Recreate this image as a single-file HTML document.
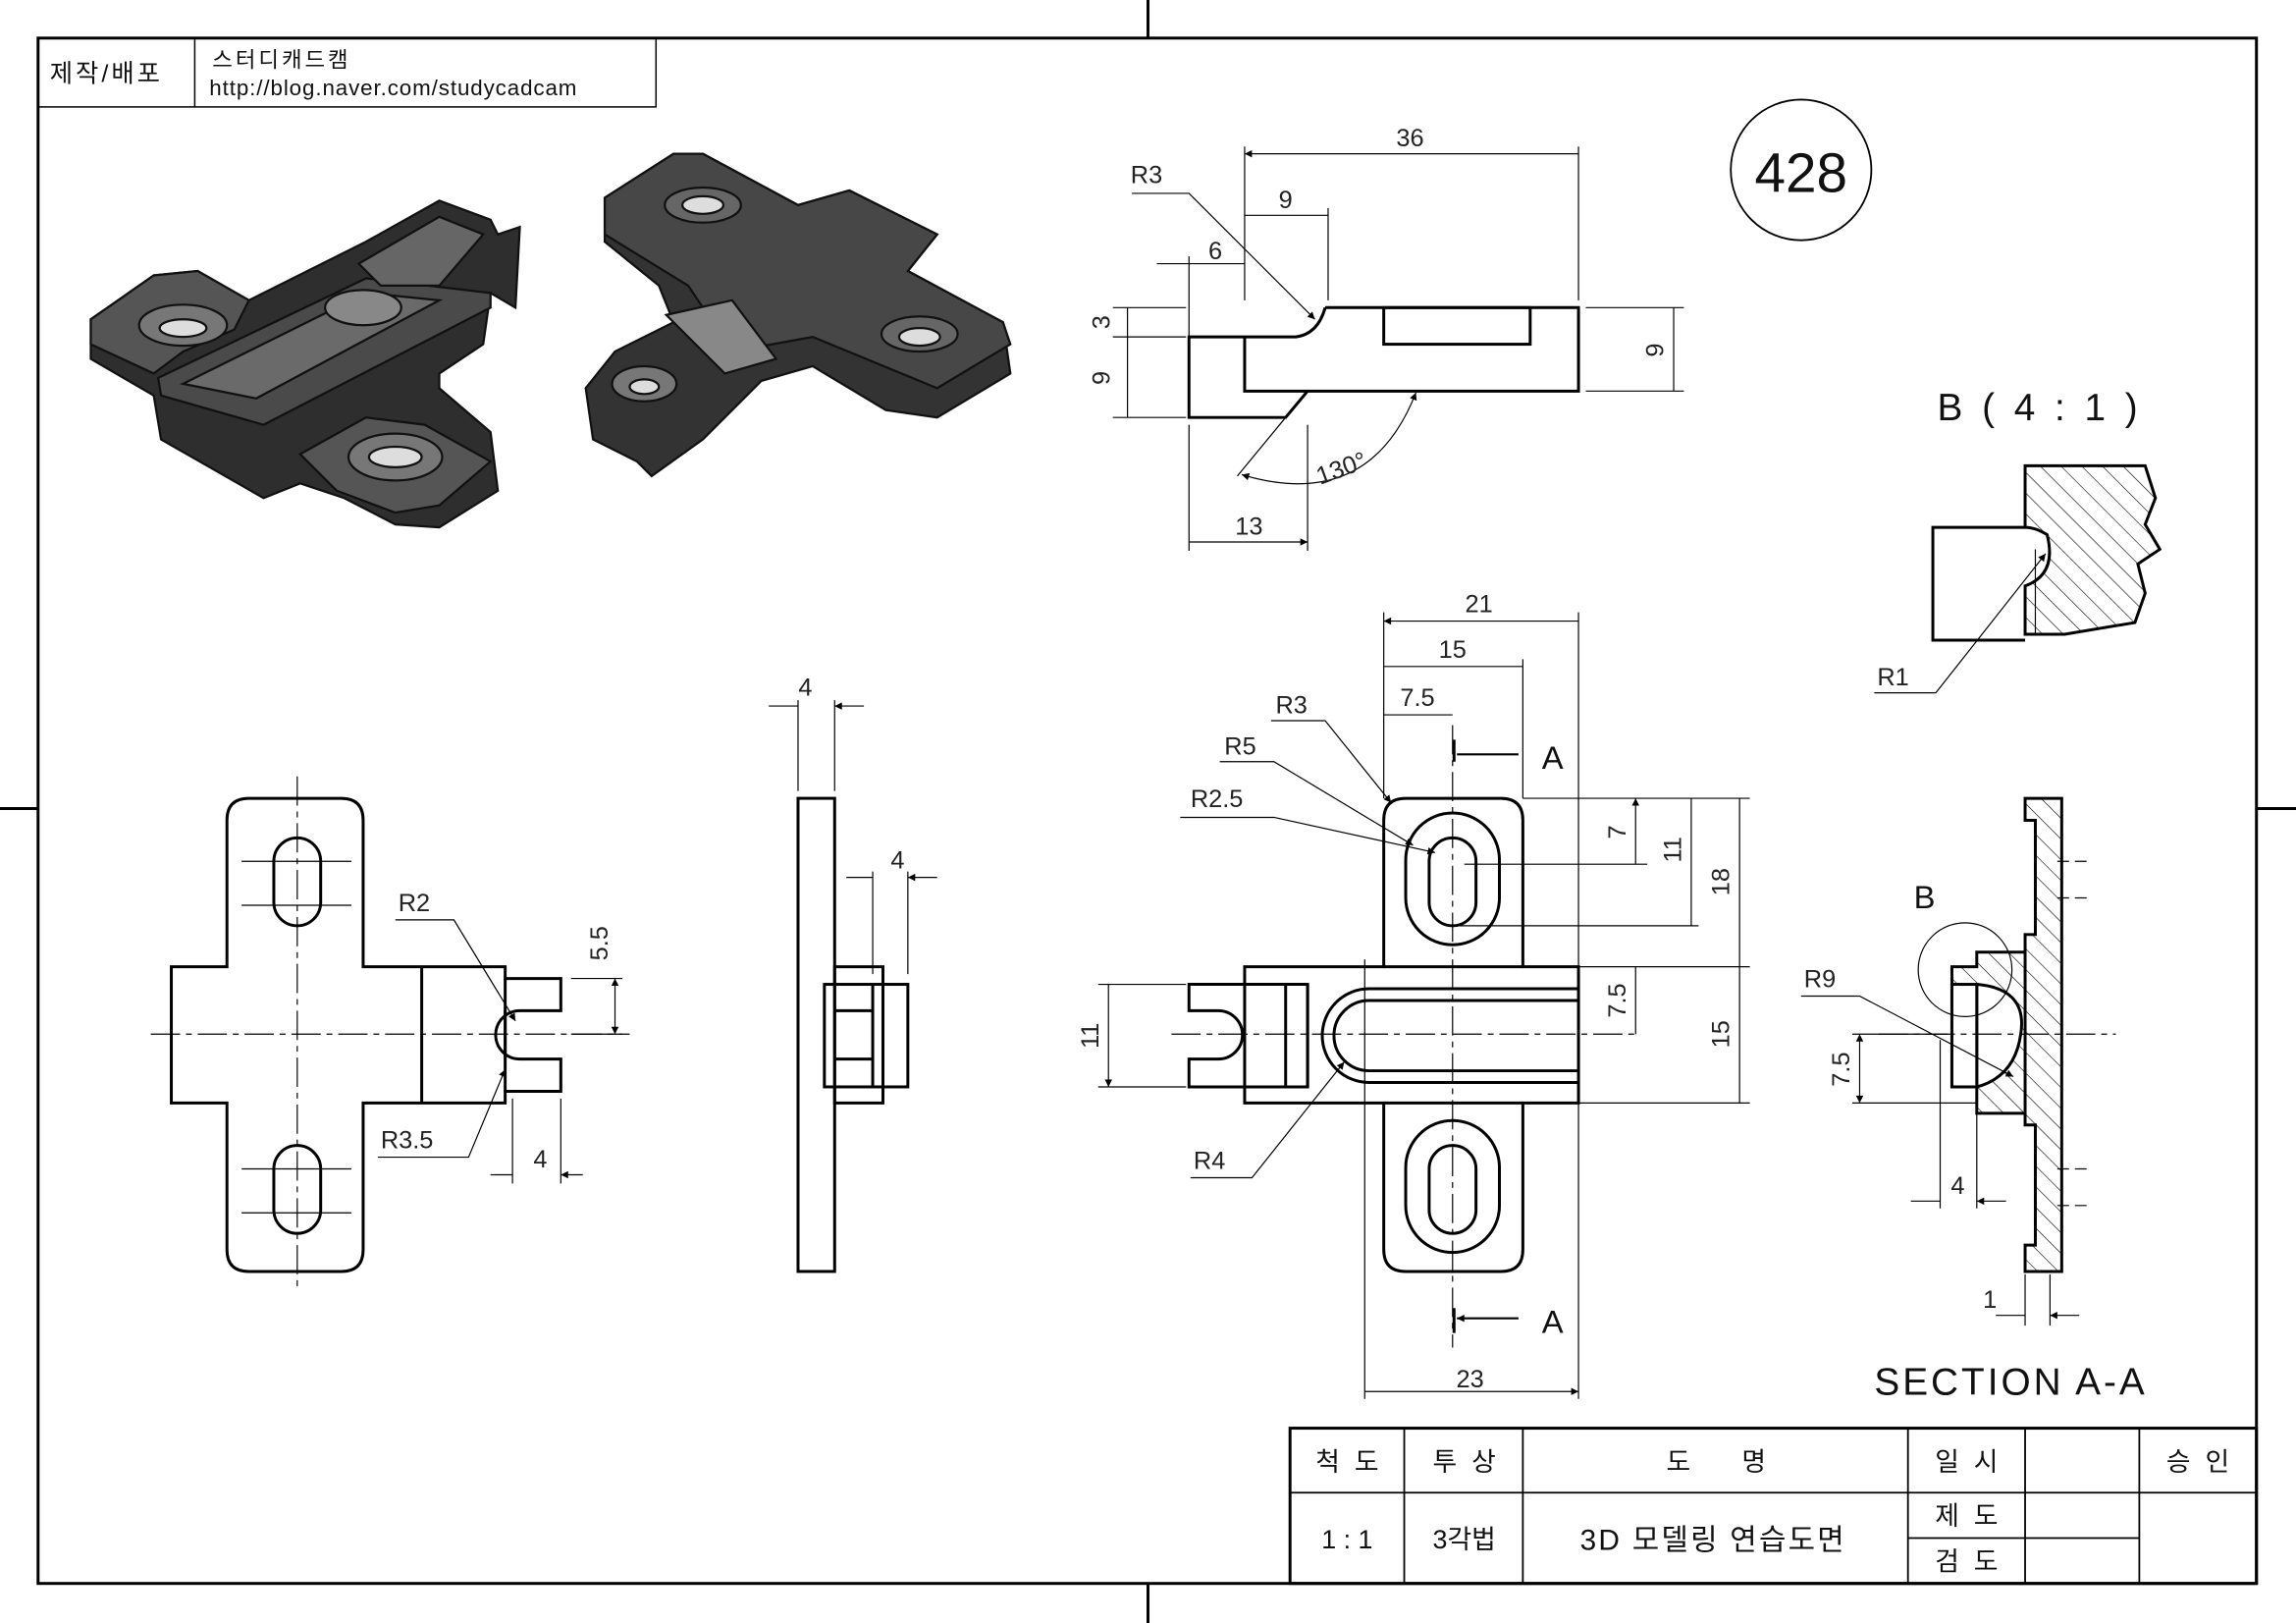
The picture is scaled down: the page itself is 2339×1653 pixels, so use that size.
<!DOCTYPE html>
<html><head><meta charset="utf-8"><style>
html,body{margin:0;padding:0;background:#fff}
svg{display:block}
text{font-family:"Liberation Sans","Noto Sans CJK KR",sans-serif;fill:#111}
.d{fill:#222}
</style></head><body>
<svg width="2339" height="1653" viewBox="0 0 1568 1108" preserveAspectRatio="none" xmlns="http://www.w3.org/2000/svg">
<defs>
<marker id="a" viewBox="0 0 10 10" refX="10" refY="5" markerWidth="9" markerHeight="5" orient="auto-start-reverse" markerUnits="userSpaceOnUse"><path d="M0,0L10,5L0,10z" fill="#000"/></marker>
<pattern id="h" width="10" height="10" patternUnits="userSpaceOnUse" patternTransform="rotate(-45)"><rect width="10" height="10" fill="#fff"/><line x1="0" y1="0" x2="0" y2="10" stroke="#000" stroke-width="0.8"/></pattern>
</defs>
<g fill="none" stroke="#000">
<rect x="26" y="26" width="1515" height="1055" stroke-width="2"/>
<path d="M784 0V26M784 1081V1108M0 552H26M1541 552H1568" stroke-width="2"/>
<rect x="26" y="26" width="422" height="47" stroke-width="1"/>
<path d="M133 26V73"/>
<circle cx="1230" cy="116" r="48" stroke-width="1.2"/>
<rect x="881" y="975" width="660" height="106" stroke-width="2"/>
<path d="M959 975V1081M1040 975V1081M1303 975V1081M1383 975V1081M1461 975V1081M881 1019H1541M1303 1050H1461" stroke-width="1.2"/>
</g>
<text x="34" y="56" font-size="17" letter-spacing="2">제작/배포</text>
<text x="145" y="46" font-size="15" letter-spacing="2">스터디캐드캠</text>
<text x="143" y="65" font-size="15" letter-spacing="0.6">http://blog.naver.com/studycadcam</text>
<text x="1230" y="131" font-size="38" text-anchor="middle">428</text>
<g font-size="18" text-anchor="middle">
<text x="920" y="1004">척 &#160;도</text><text x="1000" y="1004">투 &#160;상</text><text x="1172" y="1004">도 &#160;&#160;&#160;&#160;&#160;&#160;명</text>
<text x="1343" y="1004">일 &#160;시</text><text x="1501" y="1004">승 &#160;인</text>
<text x="920" y="1057">1 : 1</text><text x="1000" y="1057">3각법</text><text x="1170" y="1058" font-size="20" letter-spacing="1.5">3D 모델링 연습도면</text>
<text x="1343" y="1041">제 &#160;도</text><text x="1343" y="1072">검 &#160;도</text>
</g>
<g stroke="#111" stroke-width="1.5">
<path d="M62 218L105 188L135 185L170 205L250 165L300 137L335 150L340 160L355 155L352 210L335 200L330 235L300 255L300 265L335 295L340 335L300 360L270 358L235 340L205 330L180 340L110 300L105 270L62 245Z" fill="#2e2e2e"/>
<path d="M62 218L105 188L135 185L170 205L160 225L125 240L105 255L62 235Z" fill="#555"/>
<ellipse cx="125" cy="222" rx="30" ry="14" fill="#777"/><ellipse cx="125" cy="224" rx="16" ry="6" fill="#ddd"/>
<path d="M108 258L250 190L335 200L335 210L180 290L110 270Z" fill="#4a4a4a"/>
<path d="M125 262L250 200L300 205L175 272Z" fill="#6a6a6a"/>
<ellipse cx="248" cy="210" rx="26" ry="12" fill="#888"/>
<path d="M245 180L300 148L330 160L300 195L260 195Z" fill="#666"/>
<path d="M205 310L250 285L290 290L335 315L300 345L270 350L230 335Z" fill="#555"/>
<ellipse cx="270" cy="312" rx="32" ry="16" fill="#777"/><ellipse cx="270" cy="312" rx="18" ry="7" fill="#ddd"/>
</g>
<g stroke="#111" stroke-width="1.5">
<path d="M413 135L460 105L480 105L545 140L580 130L640 160L620 185L685 220L690 255L640 285L605 280L555 250L520 260L480 300L445 325L435 315L405 300L400 265L420 240L460 220L450 195L413 165Z" fill="#333"/>
<path d="M413 135L460 105L480 105L545 140L580 130L640 160L620 185L685 220L690 235L640 265L555 230L500 240L470 195L413 160Z" fill="#474747"/>
<ellipse cx="480" cy="140" rx="26" ry="12" fill="#666"/><ellipse cx="480" cy="140" rx="14" ry="6" fill="#ddd"/>
<ellipse cx="628" cy="228" rx="26" ry="12" fill="#666"/><ellipse cx="628" cy="230" rx="14" ry="6" fill="#ddd"/>
<path d="M455 215L500 205L530 245L495 255Z" fill="#888"/>
<ellipse cx="440" cy="262" rx="22" ry="12" fill="#777"/><ellipse cx="440" cy="264" rx="10" ry="5" fill="#ddd"/>
</g>
<g fill="none" stroke="#000" stroke-width="2">
<path d="M905 210H1078V267H850V230M850 230H812V285H878L893 267M850 230H885Q900 228 905 210"/>
<rect x="945" y="210" width="100" height="25"/>
</g>
<g fill="none" stroke="#000" stroke-width="0.8">
<path d="M850 100V205M1078 100V205M907 142V205M812 175V230M760 210H810M760 230H810M760 285H810M1083 210H1150M1083 267H1150M812 290V376M893 290V376M812 180H790"/>
<path d="M850 105H1078M850 147H907M850 180H812M770 210V230M770 230V285M1143 210V267M812 370H893" marker-start="url(#a)" marker-end="url(#a)"/>
<path d="M773 132H812L898 218" marker-end="url(#a)"/>
<path d="M848 324Q935 350 967 268" marker-start="url(#a)" marker-end="url(#a)"/>
<path d="M878 285L845 325"/>
</g>
<g font-size="17" text-anchor="middle" class="d">
<text x="963" y="100" class="d">36</text><text x="878" y="142" class="d">9</text><text x="830" y="177" class="d">6</text>
<text x="783" y="125" class="d">R3</text><text x="853" y="365" class="d">13</text>
<text x="918" y="325" class="d" transform="rotate(-20 918 325)">130°</text>
<text x="758" y="220" class="d" transform="rotate(-90 758 220)">3</text><text x="758" y="258" class="d" transform="rotate(-90 758 258)">9</text>
<text x="1136" y="239" class="d" transform="rotate(-90 1136 239)">9</text>
</g>
<g fill="none" stroke="#000" stroke-width="2">
<path d="M170 545H233Q248 545 248 560V660H345V668H383V690H355A16 16 0 0 0 355 723H383V745H345V753H248V853Q248 868 233 868H170Q155 868 155 853V753H117V660H155V560Q155 545 170 545Z"/>
<path d="M288 660V753M345 668V745"/>
<path d="M345 690V723"/>
<rect x="187" y="572" width="32" height="60" rx="16"/>
<rect x="187" y="782" width="32" height="60" rx="16"/>
</g>
<g fill="none" stroke="#000" stroke-width="0.8">
<path d="M203 530V880M103 706H430" stroke-dasharray="20 4 4 4"/>
<path d="M165 588H240M165 618H240M165 798H240M165 828H240"/>
<path d="M390 668H425M390 706H425M350 750V808M383 750V808"/>
<path d="M420 668V706" marker-start="url(#a)" marker-end="url(#a)"/>
<path d="M335 802H350M398 802H383" marker-end="url(#a)"/>
<path d="M270 628H310L352 697" marker-end="url(#a)"/>
<path d="M258 790H320L345 730" marker-end="url(#a)"/>
</g>
<text x="272" y="622" font-size="17" class="d">R2</text>
<text x="260" y="784" font-size="17" class="d">R3.5</text>
<text x="369" y="797" font-size="17" class="d" text-anchor="middle">4</text>
<text x="415" y="644" font-size="17" class="d" text-anchor="middle" transform="rotate(-90 415 644)">5.5</text>
<g fill="none" stroke="#000" stroke-width="2">
<rect x="545" y="545" width="25" height="323"/>
<rect x="570" y="660" width="33" height="93"/>
<rect x="563" y="672" width="57" height="70"/>
<path d="M596 672V742M570 690H596M570 723H596"/>
</g>
<g fill="none" stroke="#000" stroke-width="0.8">
<path d="M545 478V540M570 478V540M596 595V665M620 595V665"/>
<path d="M525 482H545M590 482H570" marker-end="url(#a)"/>
<path d="M578 599H596M640 599H620" marker-end="url(#a)"/>
</g>
<text x="550" y="475" font-size="17" class="d" text-anchor="middle">4</text>
<text x="613" y="593" font-size="17" class="d" text-anchor="middle">4</text>
<g fill="none" stroke="#000" stroke-width="2">
<path d="M960 545H1025Q1040 545 1040 560V660H1078V753H1040V853Q1040 868 1025 868H960Q945 868 945 853V753H850V660H945V560Q945 545 960 545Z"/>
<path d="M945 660H1040M945 753H1040"/>
<rect x="960" y="555" width="64" height="90" rx="32"/><rect x="976" y="572" width="32" height="60" rx="16"/>
<rect x="960" y="765" width="64" height="90" rx="32"/><rect x="976" y="782" width="32" height="60" rx="16"/>
<path d="M812 672H893V742H812V723H832A16 16 0 0 0 832 690H812Z"/>
<path d="M878 672V742M893 672V742"/>
<path d="M1078 675H935A32 32 0 0 0 935 739H1078M1078 683H935A24 24 0 0 0 935 731H1078"/>
<path d="M993 505V520M993 893V910"/>
</g>
<g fill="none" stroke="#000" stroke-width="0.8">
<path d="M992 495V920M800 706H1120" stroke-dasharray="20 4 4 4"/>
<path d="M945 418V545M1078 418V660M1040 450V545M932 655V955M1078 753V955"/>
<path d="M945 424H1078M945 455H1040M945 488H992M932 950H1078" marker-start="url(#a)" marker-end="url(#a)"/>
<path d="M1040 545H1195M1000 590H1125M1078 660H1195M1078 753H1195M750 672H810M750 742H810"/>
<path d="M1117 545V590M1155 545V632M1188 545V660M1188 660V753M1117 660V706M757 672V742" marker-start="url(#a)" marker-end="url(#a)"/>
<path d="M995 632H1160"/>
<path d="M1037 515H995M1037 900H995" stroke-width="1.5" marker-end="url(#a)"/>
<path d="M868 492H905L950 548" marker-end="url(#a)"/>
<path d="M833 520H870L965 577" marker-end="url(#a)"/>
<path d="M806 558H870L980 582" marker-end="url(#a)"/>
<path d="M813 804H855L918 725" marker-end="url(#a)"/>
</g>
<g font-size="17" class="d" text-anchor="middle">
<text x="1010" y="418" class="d">21</text><text x="992" y="449" class="d">15</text><text x="968" y="482" class="d">7.5</text>
<text x="1004" y="947" class="d">23</text>
<text x="882" y="487" class="d">R3</text><text x="847" y="515" class="d">R5</text><text x="831" y="551" class="d">R2.5</text><text x="826" y="798" class="d">R4</text>
<text x="1110" y="568" class="d" transform="rotate(-90 1110 568)">7</text>
<text x="1148" y="580" class="d" transform="rotate(-90 1148 580)">11</text>
<text x="1181" y="602" class="d" transform="rotate(-90 1181 602)">18</text>
<text x="1110" y="683" class="d" transform="rotate(-90 1110 683)">7.5</text>
<text x="1181" y="706" class="d" transform="rotate(-90 1181 706)">15</text>
<text x="750" y="707" class="d" transform="rotate(-90 750 707)">11</text>
</g>
<text x="1053" y="525" font-size="22">A</text><text x="1053" y="910" font-size="22">A</text>
<g stroke="#000" stroke-width="2">
<path d="M1383 545H1408V868H1383V850H1390V768H1383V650H1350V660H1333V742H1350V760H1383V638H1390V560H1383Z" fill="url(#h)"/>
<path d="M1350 672Q1385 675 1380 706Q1376 735 1350 742Z" fill="#fff"/>
<rect x="1333" y="672" width="17" height="70" fill="#fff"/>
</g>
<g fill="none" stroke="#000" stroke-width="0.8">
<path d="M1283 706H1445" stroke-dasharray="20 4 4 4"/>
<path d="M1405 588H1425M1405 613H1425M1405 798H1425M1405 823H1425" stroke-dasharray="8 4"/>
<circle cx="1342" cy="662" r="32"/>
<path d="M1325 710V825M1350 745V825M1383 870V905M1400 870V905M1265 706H1330M1265 753H1350"/>
<path d="M1305 820H1325M1370 820H1350" marker-end="url(#a)"/>
<path d="M1363 898H1383M1420 898H1400" marker-end="url(#a)"/>
<path d="M1270 706V753" marker-start="url(#a)" marker-end="url(#a)"/>
<path d="M1230 680H1270L1375 735" marker-end="url(#a)"/>
</g>
<text x="1307" y="620" font-size="22">B</text>
<text x="1232" y="674" font-size="17" class="d">R9</text>
<text x="1337" y="815" font-size="17" class="d" text-anchor="middle">4</text>
<text x="1359" y="893" font-size="17" class="d" text-anchor="middle">1</text>
<text x="1263" y="730" font-size="17" class="d" text-anchor="middle" transform="rotate(-90 1263 730)">7.5</text>
<text x="1280" y="952" font-size="26" letter-spacing="2">SECTION A-A</text>
<text x="1323" y="287" font-size="26" letter-spacing="3">B ( 4 : 1 )</text>
<g stroke="#000" stroke-width="2">
<path d="M1383 318H1465L1472 340L1465 358L1475 375L1460 385L1465 405L1458 425L1410 433H1383V400Q1405 392 1398 365Q1390 360 1383 360Z" fill="url(#h)"/>
<path d="M1383 360H1320V437H1383" fill="none"/>
</g>
<g fill="none" stroke="#000" stroke-width="0.8">
<path d="M1280 473H1322L1397 378" marker-end="url(#a)"/>
<path d="M1390 375V433"/>
</g>
<text x="1282" y="468" font-size="17" class="d">R1</text>
</svg>
</body></html>
